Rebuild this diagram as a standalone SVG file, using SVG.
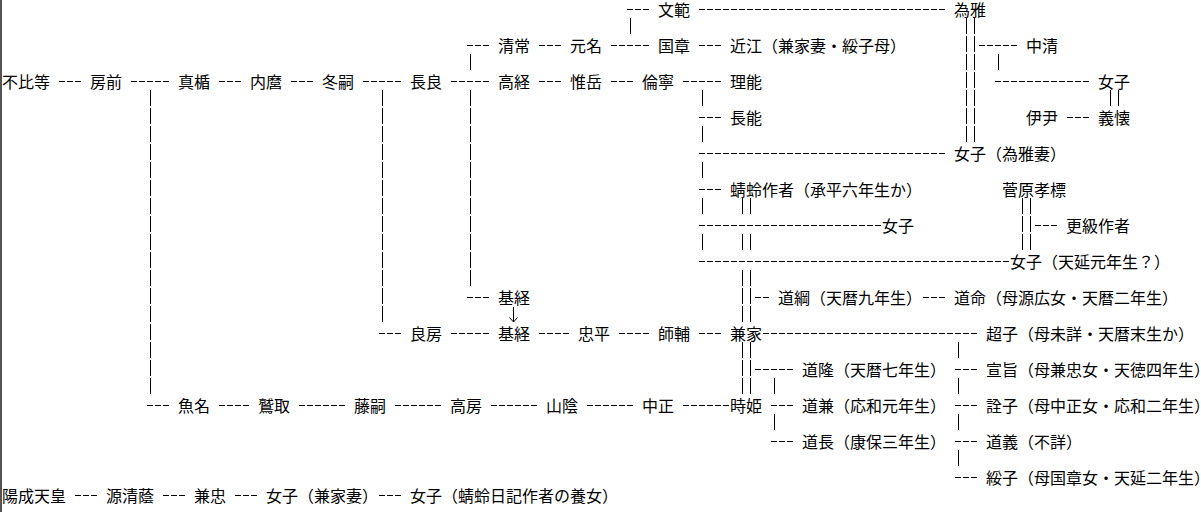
<svg xmlns="http://www.w3.org/2000/svg" width="1201" height="512" viewBox="0 0 1201 512">
<style>
text{font-family:"Noto Sans CJK JP","Noto Sans CJK SC",sans-serif;font-size:16px;fill:#000;}
.h{stroke:#000;stroke-width:1;stroke-dasharray:6 2;fill:none;}
.v{stroke:#000;stroke-width:1;stroke-dasharray:16 2;fill:none;}
.v2{stroke:#000;stroke-width:1;stroke-dasharray:16 20;fill:none;}
.a{stroke:#000;stroke-width:1;fill:none;}
</style>
<rect x="0" y="0" width="1201" height="512" fill="#fff"/>
<rect x="0" y="0" width="2" height="512" fill="#555"/>
<g id="connectors">
<path class="h" d="M627 9.5H649M699 9.5H945"/>
<path class="h" d="M467 45.5H489M539 45.5H561M611 45.5H649M699 45.5H721M979 45.5H1017"/>
<path class="h" d="M59 81.5H81M131 81.5H169M219 81.5H241M291 81.5H313M363 81.5H401M451 81.5H489M539 81.5H561M611 81.5H633M683 81.5H721M995 81.5H1089"/>
<path class="h" d="M699 117.5H721M1067 117.5H1089"/>
<path class="h" d="M699 153.5H945"/>
<path class="h" d="M699 189.5H721"/>
<path class="h" d="M699 225.5H881M1035 225.5H1057"/>
<path class="h" d="M699 261.5H1009"/>
<path class="h" d="M467 297.5H489M755 297.5H769M923 297.5H945"/>
<path class="h" d="M379 333.5H401M451 333.5H489M539 333.5H569M619 333.5H649M699 333.5H721M763 333.5H977"/>
<path class="h" d="M755 369.5H793M955 369.5H977"/>
<path class="h" d="M147 405.5H169M219 405.5H249M299 405.5H345M395 405.5H441M491 405.5H537M587 405.5H633M683 405.5H729M771 405.5H793M955 405.5H977"/>
<path class="h" d="M771 441.5H793M955 441.5H977"/>
<path class="h" d="M955 477.5H977"/>
<path class="h" d="M75 495.5H97M163 495.5H185M235 495.5H257M379 495.5H401"/>
<path class="v" d="M150.5 90V394M382.5 90V322M470.5 54V70M470.5 90V286M630.5 18V34M966.5 18V142M974.5 18V142M998.5 54V70M1110.5 90V106M1118.5 90V106M1022.5 198V250M1030.5 198V250"/>
<path class="v" d="M742.5 198V214M750.5 198V214M742.5 234V250M750.5 234V250M742.5 270V322M750.5 270V322M742.5 342V394M750.5 342V394"/>
<path class="v2" d="M702.5 90V250M774.5 378V430M958.5 342V466"/>
<path class="a" d="M513.5 307V322M509.5 317.5L513.5 322L517.5 317.5"/>
</g>
<g id="n-fuhito"><text x="2" y="88">不比等</text></g>
<g id="n-fusasaki"><text x="90" y="88">房前</text></g>
<g id="n-matate"><text x="178" y="88">真楯</text></g>
<g id="n-uchimaro"><text x="250" y="88">内麿</text></g>
<g id="n-fuyutsugu"><text x="322" y="88">冬嗣</text></g>
<g id="n-nagara"><text x="410" y="88">長良</text></g>
<g id="n-takatsune"><text x="498" y="88">高経</text></g>
<g id="n-koretaka"><text x="570" y="88">惟岳</text></g>
<g id="n-tomoyasu"><text x="642" y="88">倫寧</text></g>
<g id="n-masatou"><text x="730" y="88">理能</text></g>
<g id="n-nyoshi1"><text x="1098" y="88">女子</text></g>
<g id="n-fumimori"><text x="658" y="16">文範</text></g>
<g id="n-tamemasa"><text x="954" y="16">為雅</text></g>
<g id="n-kiyotsune"><text x="498" y="52">清常</text></g>
<g id="n-motona"><text x="570" y="52">元名</text></g>
<g id="n-kuniaki"><text x="658" y="52">国章</text></g>
<g id="n-oumi"><text x="730" y="52">近江（兼家妻・綏子母）</text></g>
<g id="n-nakakiyo"><text x="1026" y="52">中清</text></g>
<g id="n-nagatou"><text x="730" y="124">長能</text></g>
<g id="n-koretada"><text x="1026" y="124">伊尹</text></g>
<g id="n-yoshichika"><text x="1098" y="124">義懐</text></g>
<g id="n-tamemasa-wife"><text x="954" y="160">女子（為雅妻）</text></g>
<g id="n-kagero"><text x="730" y="196">蜻蛉作者（承平六年生か）</text></g>
<g id="n-takasue"><text x="1002" y="196">菅原孝標</text></g>
<g id="n-nyoshi2"><text x="882" y="232">女子</text></g>
<g id="n-sarashina"><text x="1066" y="232">更級作者</text></g>
<g id="n-nyoshi3"><text x="1010" y="268">女子（天延元年生？）</text></g>
<g id="n-mototsune1"><text x="498" y="304">基経</text></g>
<g id="n-michitsuna"><text x="778" y="304">道綱（天暦九年生）</text></g>
<g id="n-doumyou"><text x="954" y="304">道命（母源広女・天暦二年生）</text></g>
<g id="n-yoshifusa"><text x="410" y="340">良房</text></g>
<g id="n-mototsune2"><text x="498" y="340">基経</text></g>
<g id="n-tadahira"><text x="578" y="340">忠平</text></g>
<g id="n-morosuke"><text x="658" y="340">師輔</text></g>
<g id="n-kaneie"><text x="730" y="340">兼家</text></g>
<g id="n-choushi"><text x="986" y="340">超子（母未詳・天暦末生か）</text></g>
<g id="n-michitaka"><text x="802" y="376">道隆（天暦七年生）</text></g>
<g id="n-senji"><text x="986" y="376">宣旨（母兼忠女・天徳四年生）</text></g>
<g id="n-uona"><text x="178" y="412">魚名</text></g>
<g id="n-washitori"><text x="258" y="412">鷲取</text></g>
<g id="n-fujitsugu"><text x="354" y="412">藤嗣</text></g>
<g id="n-takafusa"><text x="450" y="412">高房</text></g>
<g id="n-yamakage"><text x="546" y="412">山陰</text></g>
<g id="n-nakamasa"><text x="642" y="412">中正</text></g>
<g id="n-tokihime"><text x="730" y="412">時姫</text></g>
<g id="n-michikane"><text x="802" y="412">道兼（応和元年生）</text></g>
<g id="n-senshi"><text x="986" y="412">詮子（母中正女・応和二年生）</text></g>
<g id="n-michinaga"><text x="802" y="448">道長（康保三年生）</text></g>
<g id="n-michiyoshi"><text x="986" y="448">道義（不詳）</text></g>
<g id="n-suishi"><text x="986" y="484">綏子（母国章女・天延二年生）</text></g>
<g id="n-yozei"><text x="2" y="502">陽成天皇</text></g>
<g id="n-kiyokage"><text x="106" y="502">源清蔭</text></g>
<g id="n-kanetada"><text x="194" y="502">兼忠</text></g>
<g id="n-kaneie-wife"><text x="266" y="502">女子（兼家妻）</text></g>
<g id="n-adopted"><text x="410" y="502">女子（蜻蛉日記作者の養女）</text></g>
</svg>
